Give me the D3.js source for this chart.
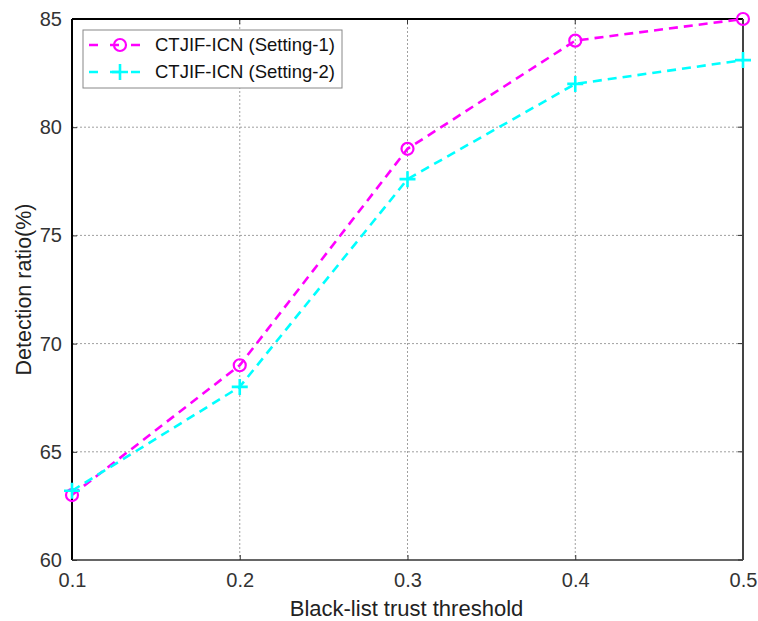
<!DOCTYPE html>
<html>
<head>
<meta charset="utf-8">
<script src="https://cdn.jsdelivr.net/npm/d3@7"></script>
<style>
  html, body { margin: 0; padding: 0; background: #fff; }
  svg { display: block; font-family: Arial, "Liberation Sans", sans-serif; }
</style>
</head>
<body>
<svg id="chart" width="758" height="621"></svg>
<script>
// data
const thresholds = [0.1, 0.2, 0.3, 0.4, 0.5];
const setting1 = [63, 69, 79, 84, 85];
const setting2 = [63.2, 68, 77.6, 82, 83.1];
const xTicks = [0.1, 0.2, 0.3, 0.4, 0.5];
const yTicks = [60, 65, 70, 75, 80, 85];
const seriesNames = ["CTJIF-ICN (Setting-1)", "CTJIF-ICN (Setting-2)"];

const svgEl = document.getElementById("chart");
const svg = d3.select(svgEl);
const margin = { top: 19, right: 15, bottom: 61, left: 72 };
const width = 758, height = 621;
const innerWidth = width - margin.left - margin.right;
const innerHeight = height - margin.top - margin.bottom;

const g = svg.append("g").attr("transform", `translate(${margin.left},${margin.top})`);

const x = d3.scaleLinear().domain([0.1, 0.5]).range([0, innerWidth]);
const y = d3.scaleLinear().domain([60, 85]).range([innerHeight, 0]);

// grid
const gridG = g.append("g").attr("class", "grid");
gridG.selectAll("line.vx")
  .data(xTicks.slice(1, -1))
  .join("line")
  .attr("x1", (d) => x(d)).attr("x2", (d) => x(d))
  .attr("y1", 0).attr("y2", innerHeight)
  .attr("stroke", "#888").attr("stroke-width", 0.8).attr("stroke-dasharray", "2,2");
gridG.selectAll("line.hy")
  .data(yTicks.slice(1, -1))
  .join("line")
  .attr("x1", 0).attr("x2", innerWidth)
  .attr("y1", (d) => y(d)).attr("y2", (d) => y(d))
  .attr("stroke", "#888").attr("stroke-width", 0.8).attr("stroke-dasharray", "2,2");

// axes
const xAxis = d3.axisBottom(x).tickValues(xTicks).tickFormat(d3.format(".1f")).tickSizeInner(-5).tickSizeOuter(0).tickPadding(13);
const yAxis = d3.axisLeft(y).tickValues(yTicks).tickSizeInner(-5).tickSizeOuter(0).tickPadding(10);

const xAxisG = g.append("g").attr("transform", `translate(0,${innerHeight})`).call(xAxis);
const yAxisG = g.append("g").call(yAxis);
[xAxisG, yAxisG].forEach((a) => {
  a.select(".domain").remove();
  a.selectAll(".tick line").attr("stroke", "#333");
  a.selectAll(".tick text").attr("fill", "#333").style("font-size", "20px").style("font-family", "Arial, 'Liberation Sans', sans-serif");
});
// top ticks and right ticks
g.append("g").selectAll("line").data(xTicks).join("line")
  .attr("x1", (d) => x(d)).attr("x2", (d) => x(d)).attr("y1", 0).attr("y2", 5).attr("stroke", "#333");
g.append("g").selectAll("line").data(yTicks).join("line")
  .attr("x1", innerWidth).attr("x2", innerWidth - 5).attr("y1", (d) => y(d)).attr("y2", (d) => y(d)).attr("stroke", "#333");

// frame
g.append("line").attr("x1", 0).attr("x2", 0).attr("y1", 0).attr("y2", innerHeight).attr("stroke", "#000").attr("stroke-width", 2);
g.append("line").attr("x1", 0).attr("x2", innerWidth).attr("y1", innerHeight).attr("y2", innerHeight).attr("stroke", "#333").attr("stroke-width", 1.5);
g.append("line").attr("x1", 0).attr("x2", innerWidth).attr("y1", 0).attr("y2", 0).attr("stroke", "#000").attr("stroke-width", 2);
g.append("line").attr("x1", innerWidth).attr("x2", innerWidth).attr("y1", 0).attr("y2", innerHeight).attr("stroke", "#444").attr("stroke-width", 2);

// series
const series = [
  { name: seriesNames[0], values: setting1, color: "#ff00ff", marker: "circle" },
  { name: seriesNames[1], values: setting2, color: "#00ffff", marker: "plus" }
];

const line = d3.line()
  .x((d) => x(d[0]))
  .y((d) => y(d[1]));

function drawMarker(sel, type, color) {
  if (type === "circle") {
    sel.append("circle").attr("r", 6).attr("fill", "none").attr("stroke", color).attr("stroke-width", 2.2);
  } else {
    sel.append("path").attr("d", "M-8,0H8M0,-8V8").attr("stroke", color).attr("stroke-width", 2.6).attr("fill", "none");
  }
}

series.forEach((s) => {
  const pts = thresholds.map((t, i) => [t, s.values[i]]);
  g.append("path")
    .datum(pts)
    .attr("fill", "none")
    .attr("stroke", s.color)
    .attr("stroke-width", 2.6)
    .attr("stroke-dasharray", "9,6")
    .attr("d", line);
  g.append("g").selectAll("g")
    .data(pts)
    .join("g")
    .attr("transform", (d) => `translate(${x(d[0])},${y(d[1])})`)
    .each(function () { drawMarker(d3.select(this), s.marker, s.color); });
});

// legend
const legend = g.append("g").attr("transform", "translate(11,11)");
legend.append("rect").attr("width", 259).attr("height", 58).attr("fill", "#fff").attr("stroke", "#888").attr("stroke-width", 1);
series.forEach((s, i) => {
  const ly = 15 + i * 27;
  const row = legend.append("g").attr("transform", `translate(0,${ly})`);
  row.append("line").attr("x1", 6).attr("x2", 68).attr("y1", 0).attr("y2", 0)
    .attr("stroke", s.color).attr("stroke-width", 2.6).attr("stroke-dasharray", "9,12");
  const m = row.append("g").attr("transform", "translate(37,0)");
  drawMarker(m, s.marker, s.color);
  row.append("text").attr("x", 72).attr("y", 0).attr("dy", "0.35em")
    .style("font-size", "18.5px").attr("fill", "#111").text(s.name);
});

// axis titles
svg.append("text")
  .attr("x", margin.left + innerWidth / 2 - 1).attr("y", 616)
  .attr("text-anchor", "middle").style("font-size", "22px").attr("fill", "#222")
  .text("Black-list trust threshold");
svg.append("text")
  .attr("transform", `translate(31,${margin.top + innerHeight / 2}) rotate(-90)`)
  .attr("text-anchor", "middle").style("font-size", "21.5px").attr("fill", "#222")
  .text("Detection ratio(%)");
</script>
</body>
</html>
